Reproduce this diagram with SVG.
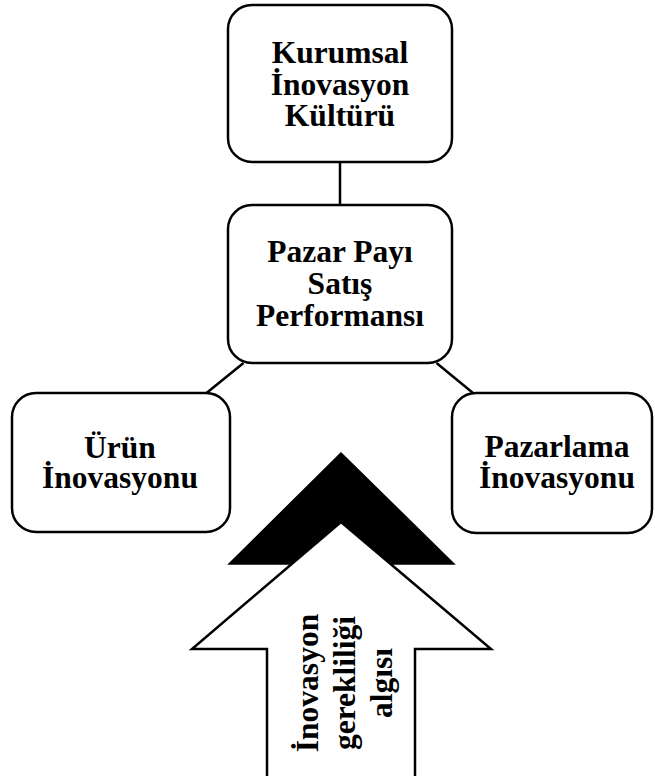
<svg xmlns="http://www.w3.org/2000/svg" width="655" height="776" viewBox="0 0 655 776">
<style>
.box{fill:#fff;stroke:#000;stroke-width:2.5}
.t{font-family:"Liberation Serif","Times New Roman",serif;font-weight:bold;font-size:31.5px;fill:#000;text-anchor:middle}
.ln{stroke:#000;stroke-width:2.5;fill:none}
</style>
<rect width="655" height="776" fill="#fff"/>
<g id="connectors">
<line class="ln" x1="340" y1="162" x2="340" y2="206"/>
<line class="ln" x1="243.5" y1="363" x2="206.5" y2="393"/>
<line class="ln" x1="436.5" y1="363" x2="473" y2="393"/>
</g>
<g id="node-kurumsal">
<rect class="box" x="228" y="5" width="224" height="157" rx="24"/>
<text class="t" x="340" y="63">Kurumsal</text>
<text class="t" x="340" y="95">İnovasyon</text>
<text class="t" x="340" y="126">Kültürü</text>
</g>
<g id="node-pazar">
<rect class="box" x="228" y="205" width="224" height="158" rx="24"/>
<text class="t" x="340" y="262">Pazar Payı</text>
<text class="t" x="340" y="294">Satış</text>
<text class="t" x="340" y="326">Performansı</text>
</g>
<g id="node-urun">
<rect class="box" x="12" y="393" width="218" height="139" rx="24"/>
<text class="t" x="120" y="458">Ürün</text>
<text class="t" x="120" y="488">İnovasyonu</text>
</g>
<g id="node-pazarlama">
<rect class="box" x="452" y="393" width="200" height="140" rx="24"/>
<text class="t" x="557" y="457">Pazarlama</text>
<text class="t" x="557" y="488">İnovasyonu</text>
</g>
<g id="arrow">
<polygon points="341,453 454,564 229,564" fill="#000" stroke="#000" stroke-width="1.5" stroke-linejoin="miter"/>
<polygon points="341,522 491,649 415,649 415,780 267,780 267,649 192,649" fill="#fff" stroke="#000" stroke-width="2.5" stroke-linejoin="miter"/>
<g transform="translate(341,683) rotate(-90)">
<text class="t" x="0" y="-23">İnovasyon</text>
<text class="t" x="0" y="14">gerekliliği</text>
<text class="t" x="0" y="51">algısı</text>
</g>
</g>
</svg>
